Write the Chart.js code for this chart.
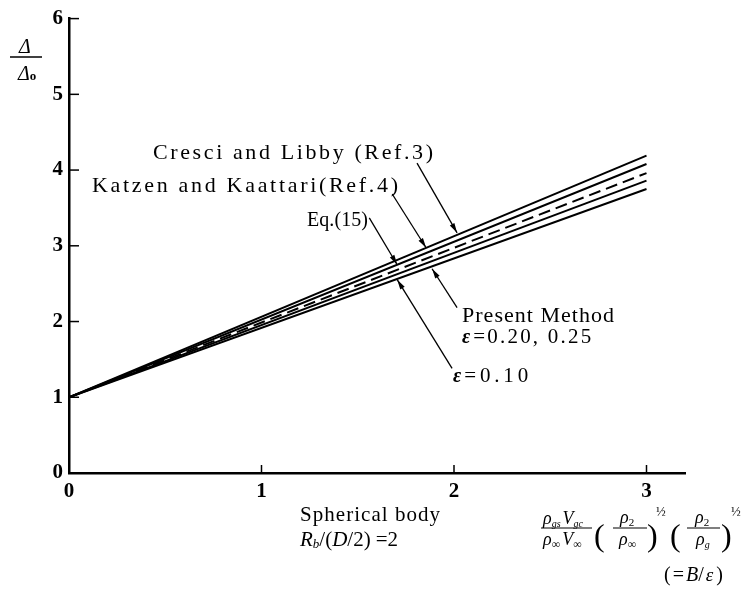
<!DOCTYPE html>
<html>
<head>
<meta charset="utf-8">
<script src="https://cdn.jsdelivr.net/npm/chart.js@4/dist/chart.umd.min.js"></script>
<style>
  body { margin: 0; background: #fff; }
  #wrap { width: 748px; height: 594px; }
</style>
</head>
<body>
<div id="wrap"><canvas id="chart" width="748" height="594"></canvas></div>
<script>
// x = rho_gs V_gc / (rho_inf V_inf) (rho2/rho_inf)^1/2 (rho2/rho_g)^1/2  (= B/eps)
const xValues = [0, 3];
// Delta / Delta_0, read at x = 0 and x = 3
const cresciLibby = [1, 4.19];
const katzenKaattari = [1, 4.08];
const eq15 = [1, 3.96];
const presentMethod = [1, 3.86];   // eps = 0.20, 0.25
const presentEps010 = [1, 3.75];   // eps = 0.10
const xTicks = [0, 1, 2, 3];
const yTicks = [0, 1, 2, 3, 4, 5, 6];

const SERIF = '"Liberation Serif", "DejaVu Serif", serif';

// pointer arrows, in data units: [fromX, fromY, toX, toY]
const pointers = [
  [1.808, 4.092, 2.016, 3.171],  // Cresci and Libby
  [1.679, 3.684, 1.855, 2.974],  // Katzen and Kaattari
  [1.560, 3.368, 1.705, 2.750],  // Eq.(15)
  [2.016, 2.184, 1.886, 2.697],  // Present Method
  [1.990, 1.382, 1.705, 2.553]   // eps = 0.10
];

function pts(ys) {
  return xValues.map((x, i) => ({ x: x, y: ys[i] }));
}

function lineSet(label, ys, dash) {
  return {
    label: label,
    data: pts(ys),
    borderColor: "#000",
    borderWidth: 2,
    borderDash: dash || [],
    pointRadius: 0,
    tension: 0,
    fill: false
  };
}

// text with its letters spread out to fill a given width
function spaced(ctx, text, x, y, width) {
  const natural = ctx.measureText(text).width;
  const extra = text.length > 1 ? (width - natural) / (text.length - 1) : 0;
  let cx = x;
  for (const ch of text) {
    ctx.fillText(ch, cx, y);
    cx += ctx.measureText(ch).width + extra;
  }
}

// draws runs of [text, font, dy, gap] side by side, returns end x
function runs(ctx, parts, x, y) {
  let cx = x;
  parts.forEach(p => {
    ctx.font = p[1];
    ctx.fillText(p[0], cx, y + (p[2] || 0));
    cx += ctx.measureText(p[0]).width + (p[3] || 0);
  });
  return cx;
}

function arrow(ctx, x1, y1, x2, y2) {
  ctx.beginPath();
  ctx.moveTo(x1, y1);
  ctx.lineTo(x2, y2);
  ctx.lineWidth = 1.3;
  ctx.stroke();
  const a = Math.atan2(y2 - y1, x2 - x1);
  const len = 10, hw = 2.6;
  ctx.beginPath();
  ctx.moveTo(x2, y2);
  ctx.lineTo(x2 - len * Math.cos(a) + hw * Math.sin(a), y2 - len * Math.sin(a) - hw * Math.cos(a));
  ctx.lineTo(x2 - len * Math.cos(a) - hw * Math.sin(a), y2 - len * Math.sin(a) + hw * Math.cos(a));
  ctx.closePath();
  ctx.fill();
}

const notes = {
  id: "notes",
  afterDraw(chart) {
    const ctx = chart.ctx;
    const xs = chart.scales.x, ys = chart.scales.y;
    ctx.save();
    ctx.fillStyle = "#000";
    ctx.strokeStyle = "#000";

    // inside tick marks
    ctx.lineWidth = 1.5;
    yTicks.forEach(v => {
      if (v === 0) return;
      const py = ys.getPixelForValue(v);
      ctx.beginPath();
      ctx.moveTo(xs.left, py);
      ctx.lineTo(xs.left + 10, py);
      ctx.stroke();
    });
    xTicks.forEach(v => {
      if (v === 0) return;
      const px = xs.getPixelForValue(v);
      ctx.beginPath();
      ctx.moveTo(px, ys.bottom);
      ctx.lineTo(px, ys.bottom - 8);
      ctx.stroke();
    });

    // pointer arrows
    pointers.forEach(p => {
      arrow(ctx, xs.getPixelForValue(p[0]), ys.getPixelForValue(p[1]),
        xs.getPixelForValue(p[2]), ys.getPixelForValue(p[3]));
    });

    ctx.textBaseline = "alphabetic";
    ctx.textAlign = "left";

    // curve labels
    ctx.font = "22px " + SERIF;
    spaced(ctx, "Cresci and Libby (Ref.3)", 153, 159, 280);
    spaced(ctx, "Katzen and Kaattari(Ref.4)", 92, 192, 306);
    ctx.font = "20px " + SERIF;
    spaced(ctx, "Eq.(15)", 307, 226, 61);
    ctx.font = "22px " + SERIF;
    spaced(ctx, "Present Method", 462, 322, 152);
    let ex = runs(ctx, [["ε", "bold italic 20px " + SERIF, 0, 3]], 462, 343);
    ctx.font = "21px " + SERIF;
    spaced(ctx, "=0.20, 0.25", ex, 343, 118);
    ex = runs(ctx, [["ε", "bold italic 20px " + SERIF, 0, 3]], 453, 382);
    ctx.font = "21px " + SERIF;
    spaced(ctx, "=0.10", ex, 382, 64);

    // y axis title: Delta / Delta_0
    runs(ctx, [["Δ", "italic 20px " + SERIF]], 19, 53);
    ctx.lineWidth = 1.5;
    ctx.beginPath();
    ctx.moveTo(10, 57);
    ctx.lineTo(42, 57);
    ctx.stroke();
    runs(ctx, [["Δ", "italic 20px " + SERIF], ["o", "bold 13px " + SERIF, 0]], 18, 80);

    // body note
    ctx.font = "21px " + SERIF;
    spaced(ctx, "Spherical body", 300, 521, 140);
    runs(ctx, [
      ["R", "italic 21px " + SERIF],
      ["b", "italic 13px " + SERIF, 2],
      ["/(", "21px " + SERIF],
      ["D", "italic 21px " + SERIF],
      ["/2)", "21px " + SERIF, 0, 5],
      ["=2", "21px " + SERIF]
    ], 300, 546);

    // x axis formula
    const it = "italic 18px " + SERIF, sub = "italic 10px " + SERIF, inf = "12px " + SERIF;
    runs(ctx, [["ρ", it], ["gs", sub, 3, 2], ["V", it], ["gc", sub, 3]], 543, 524);
    runs(ctx, [["ρ", it], ["∞", inf, 3, 2], ["V", it], ["∞", inf, 3]], 543, 545);
    ctx.lineWidth = 1.2;
    [[541, 592], [613, 647], [687, 720]].forEach(b => {
      ctx.beginPath();
      ctx.moveTo(b[0], 528);
      ctx.lineTo(b[1], 528);
      ctx.stroke();
    });
    const paren = "300 32px " + SERIF;
    runs(ctx, [["(", paren]], 594, 546);
    runs(ctx, [["ρ", it], ["2", "11px " + SERIF, 3]], 620, 523);
    runs(ctx, [["ρ", it], ["∞", inf, 3]], 619, 545);
    runs(ctx, [[")", paren]], 647, 546);
    runs(ctx, [["½", "13px " + SERIF]], 656, 516);
    runs(ctx, [["(", paren]], 670, 546);
    runs(ctx, [["ρ", it], ["2", "11px " + SERIF, 3]], 695, 523);
    runs(ctx, [["ρ", it], ["g", sub, 3]], 696, 545);
    runs(ctx, [[")", paren]], 721, 546);
    runs(ctx, [["½", "13px " + SERIF]], 731, 516);
    runs(ctx, [
      ["(", "20px " + SERIF, 0, 2],
      ["=", "20px " + SERIF, 0, 2],
      ["B", "italic 20px " + SERIF],
      ["/", "20px " + SERIF, 0, 2],
      ["ε", "italic 19px " + SERIF, 0, 3],
      [")", "20px " + SERIF]
    ], 664, 581);

    ctx.restore();
  }
};

const tickFont = { family: SERIF, size: 21, weight: "bold" };

new Chart(document.getElementById("chart"), {
  type: "line",
  data: {
    datasets: [
      lineSet("Cresci and Libby (Ref.3)", cresciLibby),
      lineSet("Katzen and Kaattari (Ref.4)", katzenKaattari),
      lineSet("Eq.(15)", eq15, [12, 6]),
      lineSet("Present Method, ε=0.20, 0.25", presentMethod),
      lineSet("Present Method, ε=0.10", presentEps010)
    ]
  },
  options: {
    responsive: false,
    animation: false,
    layout: { padding: { left: 41, right: 63, top: 17, bottom: 81 } },
    plugins: { legend: { display: false }, tooltip: { enabled: false } },
    scales: {
      x: {
        type: "linear",
        min: 0,
        max: 3.2,
        afterFit: s => { s.height = 40; },
        grid: { display: false, drawTicks: false },
        border: { display: true, color: "#000", width: 2.5 },
        ticks: {
          stepSize: 1,
          includeBounds: false,
          color: "#000",
          font: tickFont,
          padding: 6,
          maxRotation: 0,
          callback: v => (Number.isInteger(v) ? String(v) : "")
        }
      },
      y: {
        type: "linear",
        min: 0,
        max: 6,
        afterFit: s => { s.width = 28; },
        grid: { display: false, drawTicks: false },
        border: { display: true, color: "#000", width: 2.5 },
        ticks: { stepSize: 1, color: "#000", font: tickFont, padding: 6 }
      }
    }
  },
  plugins: [notes]
});
</script>
</body>
</html>
